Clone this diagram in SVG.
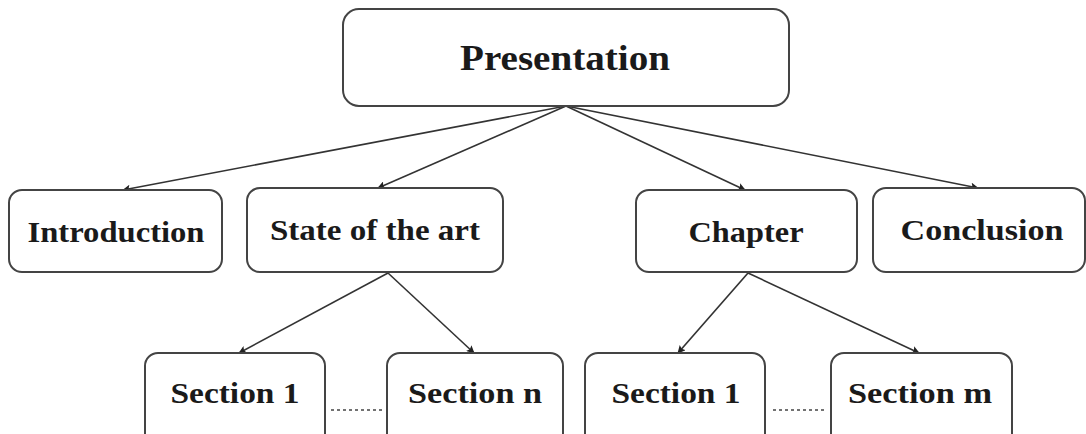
<svg xmlns="http://www.w3.org/2000/svg" width="1086" height="434" viewBox="0 0 1086 434">
  <defs>
    <marker id="arrow" viewBox="0 0 10 10" refX="9" refY="5" markerWidth="10" markerHeight="8" markerUnits="userSpaceOnUse" orient="auto">
      <path d="M0,0 L10,5 L0,10 L2,5 z" fill="#222"/>
    </marker>
    <style>
      .box { fill: #fff; stroke: #444; stroke-width: 2; }
      .lbl { font-family: "Liberation Serif", "DejaVu Serif", serif; font-weight: bold; fill: #1a1a1a; text-anchor: middle; font-size: 29px; }
      .title { font-size: 36px; }
      .edge { stroke: #333; stroke-width: 1.6; fill: none; marker-end: url(#arrow); }
      .dots { stroke: #444; stroke-width: 1.5; stroke-dasharray: 3 3; fill: none; }
    </style>
  </defs>
  <rect width="1086" height="434" fill="#fff"/>

  <g id="connectors">
    <line class="edge" x1="566" y1="106" x2="123" y2="190"/>
    <line class="edge" x1="566" y1="106" x2="378" y2="188"/>
    <line class="edge" x1="566" y1="106" x2="745" y2="190"/>
    <line class="edge" x1="566" y1="106" x2="978" y2="188"/>
    <line class="edge" x1="388" y1="273" x2="239" y2="353"/>
    <line class="edge" x1="388" y1="273" x2="474" y2="353"/>
    <line class="edge" x1="748" y1="273" x2="678" y2="353"/>
    <line class="edge" x1="748" y1="273" x2="919" y2="353"/>
    <line class="dots" x1="331" y1="410" x2="385" y2="410"/>
    <line class="dots" x1="773" y1="410" x2="827" y2="410"/>
  </g>

  <g id="presentation">
    <rect class="box" x="343" y="9" width="446" height="97" rx="16"/>
    <text class="lbl title" x="565" y="70" textLength="210" lengthAdjust="spacingAndGlyphs">Presentation</text>
  </g>
  <g id="introduction">
    <rect class="box" x="9" y="190" width="213" height="82" rx="13"/>
    <text class="lbl" x="116" y="242" textLength="177" lengthAdjust="spacingAndGlyphs">Introduction</text>
  </g>
  <g id="state-of-the-art">
    <rect class="box" x="247" y="188" width="256" height="84" rx="13"/>
    <text class="lbl" x="375" y="240" textLength="210" lengthAdjust="spacingAndGlyphs">State of the art</text>
  </g>
  <g id="chapter">
    <rect class="box" x="636" y="190" width="221" height="82" rx="13"/>
    <text class="lbl" x="746" y="242" textLength="115" lengthAdjust="spacingAndGlyphs">Chapter</text>
  </g>
  <g id="conclusion">
    <rect class="box" x="873" y="188" width="212" height="84" rx="13"/>
    <text class="lbl" x="982" y="240" textLength="163" lengthAdjust="spacingAndGlyphs">Conclusion</text>
  </g>
  <g id="state-section-1">
    <rect class="box" x="145" y="353" width="180" height="96" rx="13"/>
    <text class="lbl" x="235" y="403" textLength="129" lengthAdjust="spacingAndGlyphs">Section 1</text>
  </g>
  <g id="state-section-n">
    <rect class="box" x="387" y="353" width="176" height="96" rx="13"/>
    <text class="lbl" x="475" y="403" textLength="134" lengthAdjust="spacingAndGlyphs">Section n</text>
  </g>
  <g id="chapter-section-1">
    <rect class="box" x="585" y="353" width="180" height="96" rx="13"/>
    <text class="lbl" x="676" y="403" textLength="129" lengthAdjust="spacingAndGlyphs">Section 1</text>
  </g>
  <g id="chapter-section-m">
    <rect class="box" x="831" y="353" width="181" height="96" rx="13"/>
    <text class="lbl" x="920" y="403" textLength="144" lengthAdjust="spacingAndGlyphs">Section m</text>
  </g>
</svg>
